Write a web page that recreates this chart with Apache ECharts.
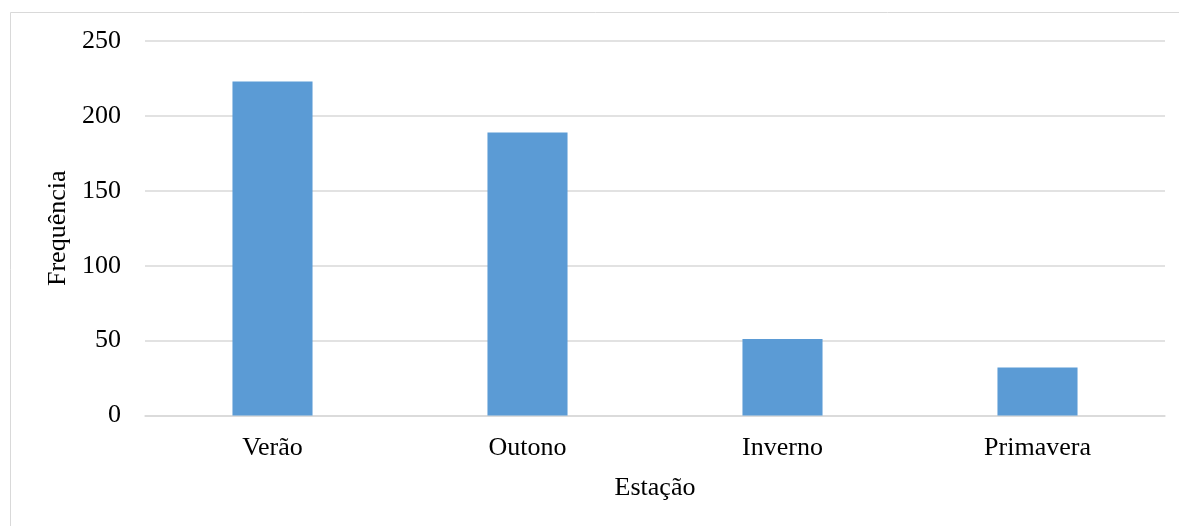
<!DOCTYPE html>
<html>
<head>
<meta charset="utf-8">
<style>
  html, body { margin: 0; padding: 0; background: #fff; }
  #chart { width: 1179px; height: 526px; }
</style>
<script src="https://cdn.jsdelivr.net/npm/echarts@6/dist/echarts.min.js"></script>
</head>
<body>
<div id="chart"></div>
<script>
// Frequência de ocorrências por estação do ano
const seasons = ['Verão', 'Outono', 'Inverno', 'Primavera'];
const frequencies = [223, 189, 51, 32];
const yTicks = [0, 50, 100, 150, 200, 250];

const serif = '"Liberation Serif", "Times New Roman", serif';
const chart = echarts.init(document.getElementById('chart'), null, { renderer: 'canvas' });

chart.setOption({
  animation: false,
  backgroundColor: '#fff',
  graphic: [{
    type: 'rect',
    shape: { x: 10.5, y: 12.5, width: 1200, height: 600 },
    style: { fill: 'none', stroke: '#d9d9d9', lineWidth: 1 },
    silent: true
  }],
  grid: { left: 145, right: 14, top: 41, bottom: 110.5, containLabel: false },
  xAxis: {
    type: 'category',
    data: seasons,
    name: 'Estação',
    nameLocation: 'middle',
    nameGap: 60,
    nameTextStyle: { fontFamily: serif, fontSize: 26, color: '#000' },
    axisLine: { show: true, lineStyle: { color: '#d9d9d9', width: 1.5 } },
    axisTick: { show: false },
    axisLabel: { fontFamily: serif, fontSize: 26, color: '#000', margin: 20 }
  },
  yAxis: {
    type: 'value',
    min: yTicks[0],
    max: yTicks[yTicks.length - 1],
    interval: yTicks[1] - yTicks[0],
    name: 'Frequência',
    nameLocation: 'middle',
    nameGap: 73,
    nameRotate: 90,
    nameTextStyle: { fontFamily: serif, fontSize: 26, color: '#000' },
    axisLine: { show: false },
    axisTick: { show: false },
    axisLabel: { fontFamily: serif, fontSize: 26, color: '#000', margin: 24 },
    splitLine: { show: true, lineStyle: { color: '#d9d9d9', width: 1.5 } }
  },
  series: [{
    type: 'bar',
    data: frequencies,
    barWidth: '31.4%',
    itemStyle: { color: '#5b9bd5' }
  }]
});
</script>
</body>
</html>
